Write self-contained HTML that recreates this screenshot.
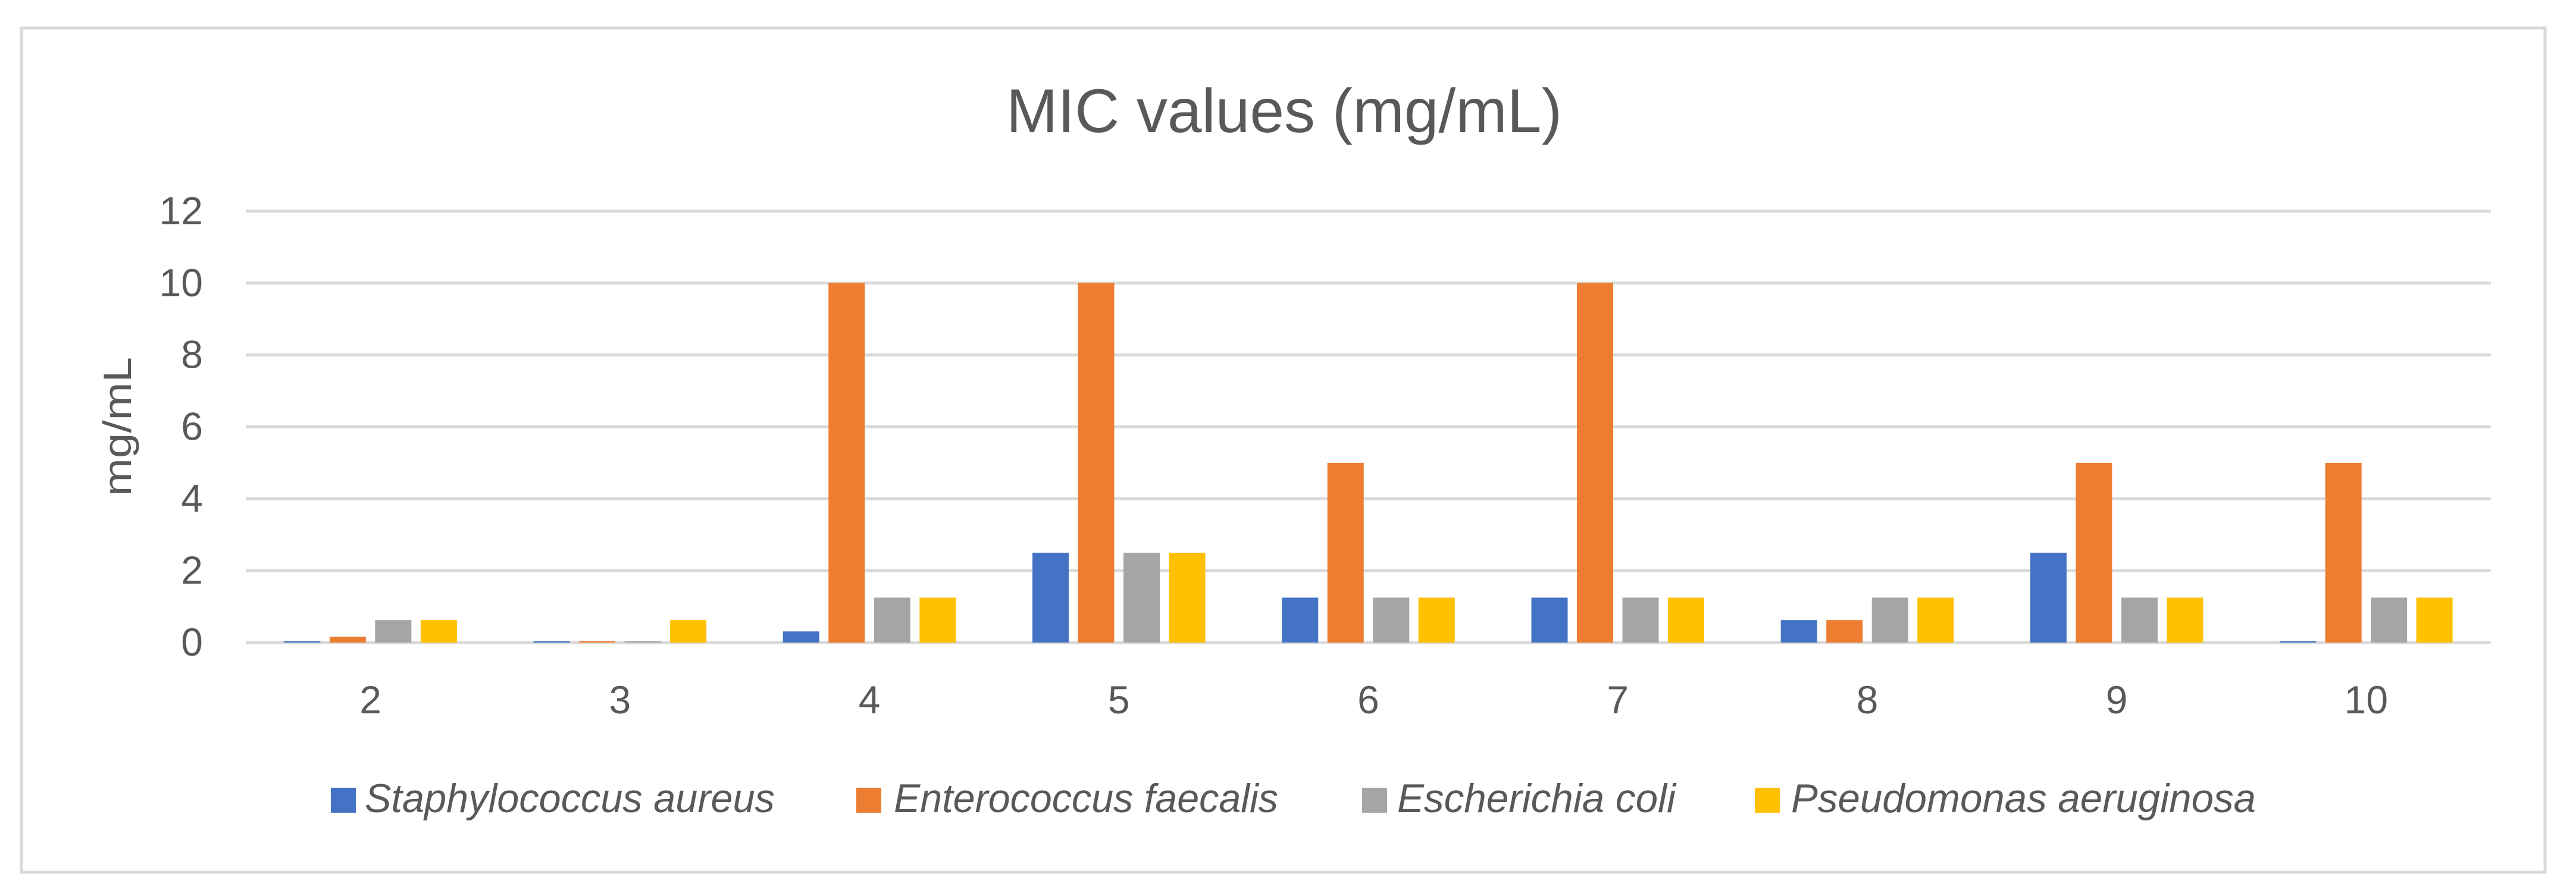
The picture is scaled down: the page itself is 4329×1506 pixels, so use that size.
<!DOCTYPE html>
<html><head><meta charset="utf-8"><style>
html,body{margin:0;padding:0;background:#fff;}
svg{display:block;font-family:"Liberation Sans",sans-serif;}
</style></head><body>
<svg id="chart" width="4329" height="1506" viewBox="0 0 4329 1506" xmlns="http://www.w3.org/2000/svg">
<rect x="36" y="47" width="4241" height="1419" fill="#fff" stroke="#D9D9D9" stroke-width="5"/>
<text x="2158" y="222" font-size="104" fill="#595959" text-anchor="middle" textLength="934" lengthAdjust="spacingAndGlyphs">MIC values (mg/mL)</text>
<text transform="translate(220,717) rotate(-90)" font-size="66" fill="#595959" text-anchor="middle" textLength="234" lengthAdjust="spacingAndGlyphs">mg/mL</text>
<g id="grid"></g><g id="bars"></g><g id="ticks"></g>
<g id="legend"></g>
</svg>
<script>
const categories = ["2","3","4","5","6","7","8","9","10"];
const seriesNames = ["Staphylococcus aureus","Enterococcus faecalis","Escherichia coli","Pseudomonas aeruginosa"];
const staph = [0.04,0.04,0.31,2.5,1.25,1.25,0.625,2.5,0.04];
const entero = [0.16,0.04,10,10,5,10,0.625,5,5];
const ecoli = [0.625,0.04,1.25,2.5,1.25,1.25,1.25,1.25,1.25];
const pseudo = [0.625,0.625,1.25,2.5,1.25,1.25,1.25,1.25,1.25];
const yTicks = [0,2,4,6,8,10,12];
const colors = ["#4472C4","#ED7D31","#A5A5A5","#FFC000"];
const NS="http://www.w3.org/2000/svg";
const plotL=413,plotR=4186,plotT=355,plotB=1080,yMax=12;
const yScale=v=>plotB-(v/yMax)*(plotB-plotT);
const cw=(plotR-plotL)/categories.length;
const xc=i=>plotL+cw*(i+0.5);
function mk(tag,attrs,parent){const e=document.createElementNS(NS,tag);for(const k in attrs)e.setAttribute(k,attrs[k]);parent.appendChild(e);return e;}
const gridG=document.getElementById('grid'),barsG=document.getElementById('bars'),ticksG=document.getElementById('ticks'),legendG=document.getElementById('legend');
yTicks.forEach(t=>{
  const l=mk('line',{x1:plotL,x2:plotR,y1:yScale(t),y2:yScale(t),stroke:'#D9D9D9','stroke-width':5},gridG);
  
  
  const tx=mk('text',{x:341,y:yScale(t)+22,'font-size':66,fill:'#595959','text-anchor':'end'},ticksG);
  tx.textContent=t;
  
  
});
const seriesList=[staph,entero,ecoli,pseudo];
const bw=61,step=76.5;
categories.forEach((c,i)=>{
  seriesList.forEach((s,j)=>{
    const x0=xc(i)-2*step+(step-bw)/2+j*step;
    const r=mk('rect',{x:x0,y:yScale(s[i]),width:bw,height:plotB-yScale(s[i]),fill:colors[j]},barsG);
    
    
  });
  const tx=mk('text',{x:xc(i),y:1199,'font-size':66,fill:'#595959','text-anchor':'middle'},ticksG);
  tx.textContent=c;
  
  
});
const legSq=[556,1439,2289,2949],legTx=[613,1502,2348,3010],legW=[689,646,468,781];
seriesNames.forEach((n,j)=>{
  const r=mk('rect',{x:legSq[j],y:1324,width:42,height:42,fill:colors[j]},legendG);
  
  
  const t=mk('text',{x:legTx[j],y:1365,'font-size':68,'font-style':'italic',fill:'#595959',textLength:legW[j],lengthAdjust:'spacingAndGlyphs'},legendG);
  t.textContent=n;
  
  
});
</script>
</body></html>
